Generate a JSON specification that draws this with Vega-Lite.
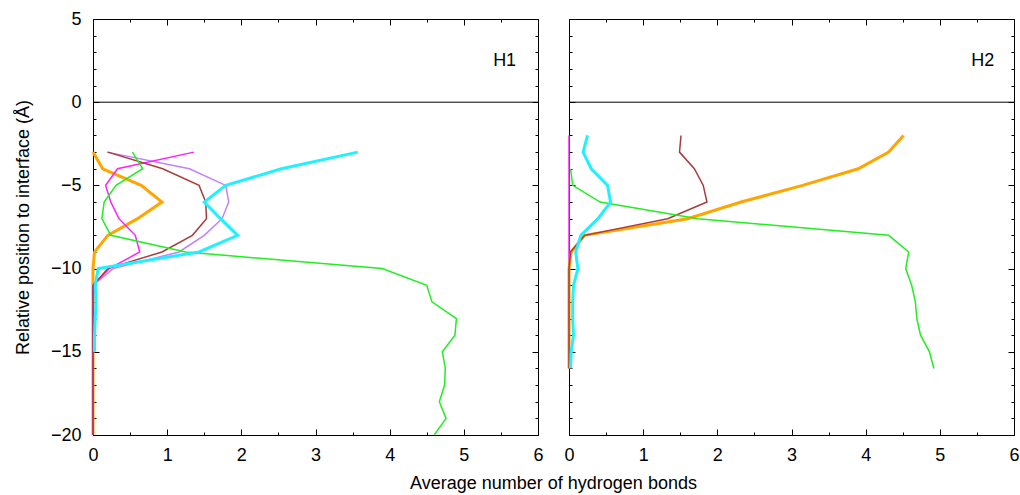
{
  "$schema": "https://vega.github.io/schema/vega-lite/v6.json",
  "background": "white",
  "padding": {"left": 13, "top": 9, "right": 2, "bottom": 2},
  "bounds": "flush",
  "datasets": {
    "h1": [
      {"s":"orange","y":-3,"x":0},{"s":"orange","y":-4,"x":0.13},{"s":"orange","y":-5,"x":0.65},{"s":"orange","y":-6,"x":0.93},{"s":"orange","y":-7,"x":0.6},{"s":"orange","y":-8,"x":0.2},{"s":"orange","y":-9,"x":0.02},{"s":"orange","y":-10,"x":0},{"s":"orange","y":-11,"x":0},{"s":"orange","y":-12,"x":0},{"s":"orange","y":-13,"x":0},{"s":"orange","y":-14,"x":0},{"s":"orange","y":-15,"x":0},{"s":"orange","y":-16,"x":0},{"s":"orange","y":-17,"x":0},{"s":"orange","y":-18,"x":0},{"s":"orange","y":-19,"x":0},{"s":"orange","y":-20,"x":0},
      {"s":"green","y":-3,"x":0.53},{"s":"green","y":-4,"x":0.67},{"s":"green","y":-5,"x":0.31},{"s":"green","y":-6,"x":0.15},{"s":"green","y":-7,"x":0.12},{"s":"green","y":-8,"x":0.24},{"s":"green","y":-9,"x":1.25},{"s":"green","y":-10,"x":3.9},{"s":"green","y":-11,"x":4.5},{"s":"green","y":-12,"x":4.57},{"s":"green","y":-13,"x":4.9},{"s":"green","y":-14,"x":4.88},{"s":"green","y":-15,"x":4.71},{"s":"green","y":-16,"x":4.75},{"s":"green","y":-17,"x":4.74},{"s":"green","y":-18,"x":4.67},{"s":"green","y":-19,"x":4.76},{"s":"green","y":-20,"x":4.6},
      {"s":"cyan","y":-3,"x":3.57},{"s":"cyan","y":-4,"x":2.54},{"s":"cyan","y":-5,"x":1.79},{"s":"cyan","y":-6,"x":1.5},{"s":"cyan","y":-7,"x":1.72},{"s":"cyan","y":-8,"x":1.95},{"s":"cyan","y":-9,"x":1.43},{"s":"cyan","y":-10,"x":0.07},{"s":"cyan","y":-11,"x":0.03},{"s":"cyan","y":-12,"x":0.04},{"s":"cyan","y":-13,"x":0.03},{"s":"cyan","y":-14,"x":0.02},{"s":"cyan","y":-15,"x":0.02},
      {"s":"brown","y":-3,"x":0.2},{"s":"brown","y":-4,"x":0.94},{"s":"brown","y":-5,"x":1.43},{"s":"brown","y":-6,"x":1.52},{"s":"brown","y":-7,"x":1.53},{"s":"brown","y":-8,"x":1.34},{"s":"brown","y":-9,"x":0.93},{"s":"brown","y":-10,"x":0.2},{"s":"brown","y":-11,"x":0},{"s":"brown","y":-12,"x":0},{"s":"brown","y":-13,"x":0},{"s":"brown","y":-14,"x":0},{"s":"brown","y":-15,"x":0},{"s":"brown","y":-16,"x":0},{"s":"brown","y":-17,"x":0},{"s":"brown","y":-18,"x":0},{"s":"brown","y":-19,"x":0},{"s":"brown","y":-20,"x":0},
      {"s":"lavender","y":-3,"x":0.19},{"s":"lavender","y":-4,"x":1.3},{"s":"lavender","y":-5,"x":1.79},{"s":"lavender","y":-6,"x":1.83},{"s":"lavender","y":-7,"x":1.74},{"s":"lavender","y":-8,"x":1.5},{"s":"lavender","y":-9,"x":1.16},{"s":"lavender","y":-10,"x":0.27},{"s":"lavender","y":-11,"x":0},{"s":"lavender","y":-12,"x":0},{"s":"lavender","y":-13,"x":0},{"s":"lavender","y":-14,"x":0},{"s":"lavender","y":-15,"x":0},{"s":"lavender","y":-16,"x":0},{"s":"lavender","y":-17,"x":0},{"s":"lavender","y":-18,"x":0},{"s":"lavender","y":-19,"x":0},{"s":"lavender","y":-20,"x":0},
      {"s":"magenta","y":-3,"x":1.36},{"s":"magenta","y":-4,"x":0.33},{"s":"magenta","y":-5,"x":0.17},{"s":"magenta","y":-6,"x":0.24},{"s":"magenta","y":-7,"x":0.35},{"s":"magenta","y":-8,"x":0.57},{"s":"magenta","y":-9,"x":0.63},{"s":"magenta","y":-10,"x":0.22},{"s":"magenta","y":-11,"x":0},{"s":"magenta","y":-12,"x":0},{"s":"magenta","y":-13,"x":0},{"s":"magenta","y":-14,"x":0},{"s":"magenta","y":-15,"x":0},{"s":"magenta","y":-16,"x":0},{"s":"magenta","y":-17,"x":0},{"s":"magenta","y":-18,"x":0},{"s":"magenta","y":-19,"x":0},{"s":"magenta","y":-20,"x":0}
    ],
    "h2": [
      {"s":"magenta","y":-2,"x":0},{"s":"magenta","y":-3,"x":0},{"s":"magenta","y":-4,"x":0},{"s":"magenta","y":-5,"x":0},{"s":"magenta","y":-6,"x":0},{"s":"magenta","y":-7,"x":0},{"s":"magenta","y":-8,"x":0},{"s":"magenta","y":-9,"x":0},{"s":"magenta","y":-10,"x":0},{"s":"magenta","y":-11,"x":0},{"s":"magenta","y":-12,"x":0},{"s":"magenta","y":-13,"x":0},{"s":"magenta","y":-14,"x":0},{"s":"magenta","y":-15,"x":0},{"s":"magenta","y":-16,"x":0},
      {"s":"orange","y":-2,"x":4.51},{"s":"orange","y":-3,"x":4.31},{"s":"orange","y":-4,"x":3.9},{"s":"orange","y":-5,"x":3.15},{"s":"orange","y":-6,"x":2.32},{"s":"orange","y":-7,"x":1.6},{"s":"orange","y":-8,"x":0.21},{"s":"orange","y":-9,"x":0.03},{"s":"orange","y":-10,"x":0},{"s":"orange","y":-11,"x":0},{"s":"orange","y":-12,"x":0},{"s":"orange","y":-13,"x":0},{"s":"orange","y":-14,"x":0},{"s":"orange","y":-15,"x":0},{"s":"orange","y":-16,"x":0},
      {"s":"brown","y":-2,"x":1.51},{"s":"brown","y":-3,"x":1.49},{"s":"brown","y":-4,"x":1.69},{"s":"brown","y":-5,"x":1.81},{"s":"brown","y":-6,"x":1.86},{"s":"brown","y":-7,"x":1.33},{"s":"brown","y":-8,"x":0.21},{"s":"brown","y":-9,"x":0.02},{"s":"brown","y":-10,"x":0},{"s":"brown","y":-11,"x":0},{"s":"brown","y":-12,"x":0},{"s":"brown","y":-13,"x":0},{"s":"brown","y":-14,"x":0},{"s":"brown","y":-15,"x":0},{"s":"brown","y":-16,"x":0},
      {"s":"green","y":-4,"x":0.02},{"s":"green","y":-5,"x":0.05},{"s":"green","y":-6,"x":0.42},{"s":"green","y":-7,"x":1.74},{"s":"green","y":-8,"x":4.31},{"s":"green","y":-9,"x":4.58},{"s":"green","y":-10,"x":4.54},{"s":"green","y":-11,"x":4.62},{"s":"green","y":-12,"x":4.67},{"s":"green","y":-13,"x":4.69},{"s":"green","y":-14,"x":4.74},{"s":"green","y":-15,"x":4.86},{"s":"green","y":-16,"x":4.92},
      {"s":"cyan","y":-2,"x":0.25},{"s":"cyan","y":-3,"x":0.19},{"s":"cyan","y":-4,"x":0.3},{"s":"cyan","y":-5,"x":0.52},{"s":"cyan","y":-6,"x":0.56},{"s":"cyan","y":-7,"x":0.39},{"s":"cyan","y":-8,"x":0.16},{"s":"cyan","y":-9,"x":0.09},{"s":"cyan","y":-10,"x":0.12},{"s":"cyan","y":-11,"x":0.06},{"s":"cyan","y":-12,"x":0.05},{"s":"cyan","y":-13,"x":0.05},{"s":"cyan","y":-14,"x":0.06},{"s":"cyan","y":-15,"x":0.03},{"s":"cyan","y":-16,"x":0.02}
    ]
  },
  "spacing": 31,
  "hconcat": [
    {
      "width": 445, "height": 416,
      "data": {"name": "h1"},
      "layer": [
        {"transform": [{"filter": "datum.s === 'orange'"}], "mark": {"type": "line", "color": "#ffa500", "strokeWidth": 3},
         "encoding": {
           "x": {"field": "x", "type": "quantitative", "scale": {"domain": [0, 6], "nice": false, "zero": false}, "axis": {"orient": "bottom", "values": [0,1,2,3,4,5,6], "ticks": false, "labelPadding": 11, "labelFlush": false, "labelOverlap": false, "title": "Average number of hydrogen bonds", "titleX": 460, "titlePadding": 10}},
           "y": {"field": "y", "type": "quantitative", "scale": {"domain": [-20, 5], "nice": false, "zero": false}, "axis": {"orient": "left", "values": [-20,-15,-10,-5,0,5], "ticks": false, "labelPadding": 12, "labelFlush": false, "labelOverlap": false, "title": "Relative position to interface (Å)", "titlePadding": 18}},
           "order": {"field": "y", "type": "quantitative", "sort": "descending"}}},
        {"transform": [{"filter": "datum.s === 'lavender'"}], "mark": {"type": "line", "color": "#c080ff", "strokeWidth": 1.5},
         "encoding": {
           "x": {"field": "x", "type": "quantitative", "axis": {"orient": "bottom", "values": [0,1,2,3,4,5,6], "labels": false, "tickSize": -6, "title": null}},
           "y": {"field": "y", "type": "quantitative", "axis": {"orient": "left", "values": [-20,-15,-10,-5,0,5], "labels": false, "tickSize": -6, "title": null}},
           "order": {"field": "y", "type": "quantitative", "sort": "descending"}}},
        {"transform": [{"filter": "datum.s === 'magenta'"}], "mark": {"type": "line", "color": "#ff20ff", "strokeWidth": 1.5},
         "encoding": {
           "x": {"field": "x", "type": "quantitative", "axis": {"orient": "bottom", "values": [0.5,1.5,2.5,3.5,4.5,5.5], "labels": false, "tickSize": -3, "title": null}},
           "y": {"field": "y", "type": "quantitative", "axis": {"orient": "left", "values": [-19,-18,-17,-16,-14,-13,-12,-11,-9,-8,-7,-6,-4,-3,-2,-1,1,2,3,4], "labels": false, "tickSize": -3, "title": null}},
           "order": {"field": "y", "type": "quantitative", "sort": "descending"}}},
        {"transform": [{"filter": "datum.s === 'brown'"}], "mark": {"type": "line", "color": "#a83c3c", "strokeWidth": 1.5},
         "encoding": {
           "x": {"field": "x", "type": "quantitative", "axis": {"orient": "top", "values": [0,1,2,3,4,5,6], "labels": false, "tickSize": -6, "title": null}},
           "y": {"field": "y", "type": "quantitative", "axis": {"orient": "right", "values": [-20,-15,-10,-5,0,5], "labels": false, "tickSize": -6, "title": null}},
           "order": {"field": "y", "type": "quantitative", "sort": "descending"}}},
        {"transform": [{"filter": "datum.s === 'green'"}], "mark": {"type": "line", "color": "#22ee22", "strokeWidth": 1.5},
         "encoding": {
           "x": {"field": "x", "type": "quantitative", "axis": {"orient": "top", "values": [0.5,1.5,2.5,3.5,4.5,5.5], "labels": false, "tickSize": -3, "title": null}},
           "y": {"field": "y", "type": "quantitative", "axis": {"orient": "right", "values": [-19,-18,-17,-16,-14,-13,-12,-11,-9,-8,-7,-6,-4,-3,-2,-1,1,2,3,4], "labels": false, "tickSize": -3, "title": null}},
           "order": {"field": "y", "type": "quantitative", "sort": "descending"}}},
        {"transform": [{"filter": "datum.s === 'cyan'"}], "mark": {"type": "line", "color": "#20f0ff", "strokeWidth": 3},
         "encoding": {
           "x": {"field": "x", "type": "quantitative", "axis": null},
           "y": {"field": "y", "type": "quantitative", "axis": null},
           "order": {"field": "y", "type": "quantitative", "sort": "descending"}}},
        {"data": {"values": [{}]}, "mark": {"type": "rule", "color": "black", "strokeWidth": 1},
         "encoding": {"y": {"datum": 0, "type": "quantitative", "axis": null}}},
        {"data": {"values": [{}]}, "mark": {"type": "text", "text": "H1", "fontSize": 18, "font": "Liberation Sans", "color": "black"},
         "encoding": {"x": {"datum": 5.55, "type": "quantitative", "axis": null}, "y": {"datum": 2.5, "type": "quantitative", "axis": null}}}
      ],
      "resolve": {"axis": {"x": "independent", "y": "independent"}}
    },
    {
      "width": 445, "height": 416,
      "data": {"name": "h2"},
      "layer": [
        {"transform": [{"filter": "datum.s === 'magenta'"}], "mark": {"type": "line", "color": "#ff20ff", "strokeWidth": 1.5},
         "encoding": {
           "x": {"field": "x", "type": "quantitative", "scale": {"domain": [0, 6], "nice": false, "zero": false}, "axis": {"orient": "bottom", "values": [0,1,2,3,4,5,6], "ticks": false, "labelPadding": 11, "labelFlush": false, "labelOverlap": false, "title": null}},
           "y": {"field": "y", "type": "quantitative", "scale": {"domain": [-20, 5], "nice": false, "zero": false}, "axis": null},
           "order": {"field": "y", "type": "quantitative", "sort": "descending"}}},
        {"transform": [{"filter": "datum.s === 'orange'"}], "mark": {"type": "line", "color": "#ffa500", "strokeWidth": 3},
         "encoding": {
           "x": {"field": "x", "type": "quantitative", "axis": {"orient": "bottom", "values": [0,1,2,3,4,5,6], "labels": false, "tickSize": -6, "title": null}},
           "y": {"field": "y", "type": "quantitative", "axis": {"orient": "left", "values": [-20,-15,-10,-5,0,5], "labels": false, "tickSize": -6, "title": null}},
           "order": {"field": "y", "type": "quantitative", "sort": "descending"}}},
        {"transform": [{"filter": "datum.s === 'brown'"}], "mark": {"type": "line", "color": "#a83c3c", "strokeWidth": 1.5},
         "encoding": {
           "x": {"field": "x", "type": "quantitative", "axis": {"orient": "bottom", "values": [0.5,1.5,2.5,3.5,4.5,5.5], "labels": false, "tickSize": -3, "title": null}},
           "y": {"field": "y", "type": "quantitative", "axis": {"orient": "left", "values": [-19,-18,-17,-16,-14,-13,-12,-11,-9,-8,-7,-6,-4,-3,-2,-1,1,2,3,4], "labels": false, "tickSize": -3, "title": null}},
           "order": {"field": "y", "type": "quantitative", "sort": "descending"}}},
        {"transform": [{"filter": "datum.s === 'green'"}], "mark": {"type": "line", "color": "#22ee22", "strokeWidth": 1.5},
         "encoding": {
           "x": {"field": "x", "type": "quantitative", "axis": {"orient": "top", "values": [0,1,2,3,4,5,6], "labels": false, "tickSize": -6, "title": null}},
           "y": {"field": "y", "type": "quantitative", "axis": {"orient": "right", "values": [-20,-15,-10,-5,0,5], "labels": false, "tickSize": -6, "title": null}},
           "order": {"field": "y", "type": "quantitative", "sort": "descending"}}},
        {"transform": [{"filter": "datum.s === 'cyan'"}], "mark": {"type": "line", "color": "#20f0ff", "strokeWidth": 3},
         "encoding": {
           "x": {"field": "x", "type": "quantitative", "axis": {"orient": "top", "values": [0.5,1.5,2.5,3.5,4.5,5.5], "labels": false, "tickSize": -3, "title": null}},
           "y": {"field": "y", "type": "quantitative", "axis": {"orient": "right", "values": [-19,-18,-17,-16,-14,-13,-12,-11,-9,-8,-7,-6,-4,-3,-2,-1,1,2,3,4], "labels": false, "tickSize": -3, "title": null}},
           "order": {"field": "y", "type": "quantitative", "sort": "descending"}}},
        {"data": {"values": [{}]}, "mark": {"type": "rule", "color": "black", "strokeWidth": 1},
         "encoding": {"y": {"datum": 0, "type": "quantitative", "axis": null}}},
        {"data": {"values": [{}]}, "mark": {"type": "text", "text": "H2", "fontSize": 18, "font": "Liberation Sans", "color": "black"},
         "encoding": {"x": {"datum": 5.58, "type": "quantitative", "axis": null}, "y": {"datum": 2.5, "type": "quantitative", "axis": null}}}
      ],
      "resolve": {"axis": {"x": "independent", "y": "independent"}}
    }
  ],
  "config": {
    "view": {"stroke": "black", "strokeWidth": 1},
    "axis": {"grid": false, "domain": false, "labelFont": "Liberation Sans", "titleFont": "Liberation Sans", "labelFontSize": 18, "titleFontSize": 18, "titleFontWeight": "normal", "labelColor": "black", "titleColor": "black", "tickColor": "black", "tickWidth": 1},
    "text": {"font": "Liberation Sans"}
  }
}
